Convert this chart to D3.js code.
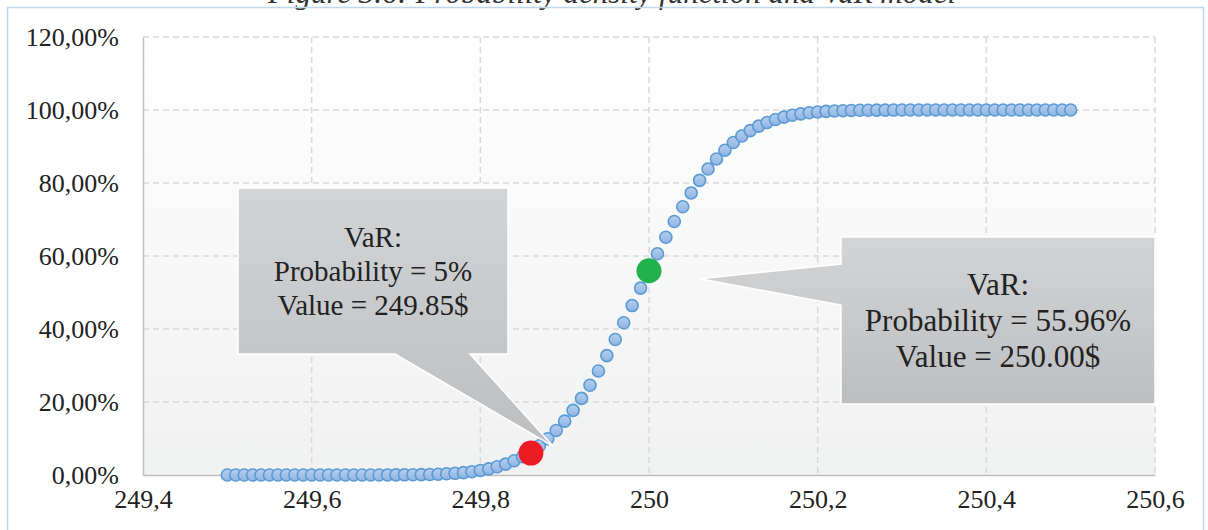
<!DOCTYPE html>
<html>
<head>
<meta charset="utf-8">
<script src="https://cdn.jsdelivr.net/npm/d3@7"></script>
<style>
  body { margin: 0; background: #fff; }
  svg text { font-family: "Times New Roman", "Liberation Serif", "DejaVu Serif", serif; }
</style>
</head>
<body>
<div id="chart"></div>
<script>
// price levels (x) and cumulative probability in % (y)
var prices = [249.50, 249.51, 249.52, 249.53, 249.54, 249.55, 249.56, 249.57, 249.58, 249.59,
              249.60, 249.61, 249.62, 249.63, 249.64, 249.65, 249.66, 249.67, 249.68, 249.69,
              249.70, 249.71, 249.72, 249.73, 249.74, 249.75, 249.76, 249.77, 249.78, 249.79,
              249.80, 249.81, 249.82, 249.83, 249.84, 249.85, 249.86, 249.87, 249.88, 249.89,
              249.90, 249.91, 249.92, 249.93, 249.94, 249.95, 249.96, 249.97, 249.98, 249.99,
              250.00, 250.01, 250.02, 250.03, 250.04, 250.05, 250.06, 250.07, 250.08, 250.09,
              250.10, 250.11, 250.12, 250.13, 250.14, 250.15, 250.16, 250.17, 250.18, 250.19,
              250.20, 250.21, 250.22, 250.23, 250.24, 250.25, 250.26, 250.27, 250.28, 250.29,
              250.30, 250.31, 250.32, 250.33, 250.34, 250.35, 250.36, 250.37, 250.38, 250.39,
              250.40, 250.41, 250.42, 250.43, 250.44, 250.45, 250.46, 250.47, 250.48, 250.49,
              250.50]
var probs  = [0.00, 0.00, 0.00, 0.00, 0.00, 0.00, 0.00, 0.00, 0.00, 0.00,
              0.00, 0.00, 0.00, 0.00, 0.00, 0.00, 0.00, 0.01, 0.01, 0.02,
              0.03, 0.05, 0.07, 0.10, 0.15, 0.22, 0.33, 0.46, 0.65, 0.91,
              1.25, 1.69, 2.25, 2.98, 3.89, 5.00, 6.36, 8.00, 9.92, 12.18,
              14.76, 17.70, 20.98, 24.58, 28.50, 32.70, 37.11, 41.72, 46.42, 51.20,
              55.96, 60.60, 65.14, 69.46, 73.50, 77.28, 80.71, 83.82, 86.58, 88.99,
              91.09, 92.87, 94.35, 95.59, 96.59, 97.40, 98.05, 98.55, 98.94, 99.23,
              99.45, 99.61, 99.73, 99.81, 99.87, 99.92, 99.94, 99.96, 99.97, 99.98,
              99.99, 100.00, 100.00, 100.00, 100.00, 100.00, 100.00, 100.00, 100.00, 100.00,
              100.00, 100.00, 100.00, 100.00, 100.00, 100.00, 100.00, 100.00, 100.00, 100.00,
              100.00]

// highlighted VaR points
var varPrices = [249.86, 250.00]
var varProbs  = [6.0, 55.96]
var varLines  = [['VaR:', 'Probability = 5%', 'Value = 249.85$'],
                 ['VaR:', 'Probability = 55.96%', 'Value = 250.00$']]

var xTicks = [249.4, 249.6, 249.8, 250, 250.2, 250.4, 250.6]
var yTicks = [0, 20, 40, 60, 80, 100, 120]

var W = 1208, H = 530
var plot = {left: 143, right: 1155, top: 37, bottom: 475}
var serif = '"Times New Roman", "Liberation Serif", "DejaVu Serif", serif'

var svg = d3.select('#chart').append('svg').attr('width', W).attr('height', H)
var defs = svg.append('defs')

var g1 = defs.append('linearGradient').attr('id', 'plotBg').attr('x1', 0).attr('y1', 0).attr('x2', 0).attr('y2', 1)
g1.append('stop').attr('offset', '0%').attr('stop-color', '#ffffff')
g1.append('stop').attr('offset', '100%').attr('stop-color', '#f0f1f1')

var g2 = defs.append('linearGradient').attr('id', 'dotFill').attr('x1', 0).attr('y1', 0).attr('x2', 0).attr('y2', 1)
g2.append('stop').attr('offset', '0%').attr('stop-color', '#b7cfee')
g2.append('stop').attr('offset', '100%').attr('stop-color', '#8fb4e2')

var g3 = defs.append('linearGradient').attr('id', 'calloutFill').attr('x1', 0).attr('y1', 0).attr('x2', 0).attr('y2', 1)
g3.append('stop').attr('offset', '0%').attr('stop-color', '#d3d4d6')
g3.append('stop').attr('offset', '100%').attr('stop-color', '#bdbec0')

// caption, mostly cut off by the top edge as in the source
svg.append('text')
  .attr('x', 612).attr('y', 3)
  .attr('text-anchor', 'middle')
  .style('font-family', serif).style('font-style', 'italic').style('font-size', '31px').attr('fill', '#333')
  .text('Figure 3.6: Probability density function and VaR model')

// chart area border
svg.append('rect').attr('x', 7.5).attr('y', 7.5).attr('width', 1196).attr('height', 540)
  .attr('fill', 'none').attr('stroke', '#bdd7ee').attr('stroke-width', 1.5)

var x = d3.scaleLinear().domain([249.4, 250.6]).range([plot.left, plot.right])
var y = d3.scaleLinear().domain([0, 120]).range([plot.bottom, plot.top])

svg.append('rect')
  .attr('x', plot.left).attr('y', plot.top)
  .attr('width', plot.right - plot.left).attr('height', plot.bottom - plot.top)
  .attr('fill', 'url(#plotBg)')

// dashed grid
svg.append('g').selectAll('line').data(yTicks.slice(1)).join('line')
  .attr('x1', plot.left).attr('x2', plot.right)
  .attr('y1', d => y(d)).attr('y2', d => y(d))
  .attr('stroke', '#d9d9d9').attr('stroke-width', 1.5).attr('stroke-dasharray', '6,4')
svg.append('g').selectAll('line').data(xTicks.slice(1)).join('line')
  .attr('x1', d => x(d)).attr('x2', d => x(d))
  .attr('y1', plot.top).attr('y2', plot.bottom)
  .attr('stroke', '#d9d9d9').attr('stroke-width', 1.5).attr('stroke-dasharray', '6,4')

var locale = d3.formatLocale({decimal: ',', thousands: '.', grouping: [3], currency: ['', '$']})
var fmtX = locale.format('.4~g')
var fmtY = locale.format('.2f')

var xAxis = svg.append('g').attr('transform', 'translate(0,' + plot.bottom + ')')
  .call(d3.axisBottom(x).tickValues(xTicks).tickFormat(fmtX).tickSize(0).tickPadding(15))
xAxis.attr('font-family', serif)
xAxis.select('.domain').attr('stroke', '#bfbfbf').attr('stroke-width', 1.5)
xAxis.selectAll('text').style('font-size', '26px').style('font-family', serif).attr('fill', '#222')

var yAxis = svg.append('g').attr('transform', 'translate(' + plot.left + ',0)')
  .call(d3.axisLeft(y).tickValues(yTicks).tickFormat(d => fmtY(d) + '%').tickSize(0).tickPadding(24))
yAxis.attr('font-family', serif)
yAxis.select('.domain').attr('stroke', '#bfbfbf').attr('stroke-width', 1.5)
yAxis.selectAll('text').style('font-size', '26px').style('font-family', serif).attr('fill', '#222')

// cumulative probability markers
var pts = prices.map((p, i) => ({p: p, v: probs[i]}))
svg.append('g').selectAll('circle').data(pts).join('circle')
  .attr('cx', d => x(d.p)).attr('cy', d => y(d.v)).attr('r', 6)
  .attr('fill', 'url(#dotFill)').attr('stroke', '#5b9bd5').attr('stroke-width', 1.6)

// callouts
var boxes = [{x0: 238, x1: 508, y0: 188, y1: 354, size: 29, lineH: 34, tx: 22, ty: -7},
             {x0: 841, x1: 1155, y0: 237, y1: 404, size: 31, lineH: 36, tx: 51, ty: 8}]

function calloutPath(i) {
  var b = boxes[i]
  var tipX = x(varPrices[i]) + b.tx, tipY = y(varProbs[i]) + b.ty
  if (i === 0) {
    return 'M' + b.x0 + ',' + b.y0 + 'H' + b.x1 + 'V' + b.y1 + 'H470L' + tipX + ',' + tipY +
           'L395,' + b.y1 + 'H' + b.x0 + 'Z'
  }
  return 'M' + b.x0 + ',' + b.y0 + 'H' + b.x1 + 'V' + b.y1 + 'H' + b.x0 + 'V305L' + tipX + ',' + tipY +
         'L' + b.x0 + ',264Z'
}

boxes.forEach(function(b, i) {
  svg.append('path').attr('d', calloutPath(i))
    .attr('fill', 'url(#calloutFill)').attr('stroke', '#ffffff').attr('stroke-width', 1.5)
})

// VaR points on top
svg.append('g').selectAll('circle').data(varPrices).join('circle')
  .attr('cx', d => x(d)).attr('cy', (d, i) => y(varProbs[i])).attr('r', 12.5)
  .attr('fill', (d, i) => i === 0 ? '#ed1c24' : '#22b14c')

boxes.forEach(function(b, i) {
  var cx = (b.x0 + b.x1) / 2
  var mid = (b.y0 + b.y1) / 2
  var t = svg.append('text').attr('text-anchor', 'middle')
    .style('font-family', serif).style('font-size', b.size + 'px').attr('fill', '#222')
  varLines[i].forEach(function(line, k) {
    t.append('tspan').attr('x', cx).attr('y', mid + (k - 1) * b.lineH + b.size * 0.33).text(line)
  })
})
</script>
</body>
</html>
